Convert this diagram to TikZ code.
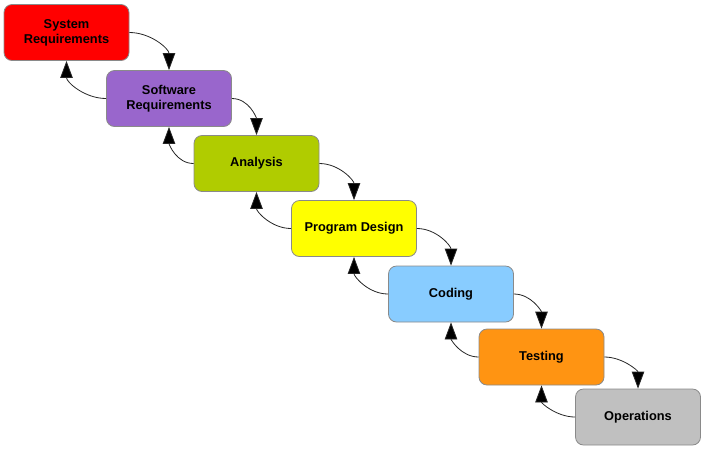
\documentclass[tikz,border=0pt]{standalone}
\usepackage{fontspec}
\setmainfont{Liberation Sans}
\usetikzlibrary{arrows.meta}
\definecolor{sysred}{HTML}{FF0000}
\definecolor{swpurple}{HTML}{9966CC}
\definecolor{anagreen}{HTML}{B0CC00}
\definecolor{pdyellow}{HTML}{FFFF00}
\definecolor{codblue}{HTML}{88CCFF}
\definecolor{tstorange}{HTML}{FF9412}
\definecolor{opgrey}{HTML}{C0C0C0}
\definecolor{edgegrey}{HTML}{8A8A8A}
\begin{document}
\begin{tikzpicture}[x=1pt,y=-1pt,
  phase/.style={draw=edgegrey, line width=0.8pt, rounded corners=8pt,
    minimum width=125pt, minimum height=56pt, inner sep=0pt,
    align=center, font=\bfseries\fontsize{12.8}{15}\selectfont},
  flow/.style={draw=black!85, line width=0.8pt,
    -{Triangle[length=17pt,width=12.5pt,fill=black]}}]
\useasboundingbox (0,0) rectangle (706,451);
\node[phase, fill=sysred]    (sys) at (66.5,32.5)  {System\\Requirements};
\node[phase, fill=swpurple]  (sw)  at (169,98.5)   {Software\\Requirements};
\node[phase, fill=anagreen]  (ana) at (256.5,163.5) {Analysis};
\node[phase, fill=pdyellow]  (pd)  at (354,228.5)  {Program Design};
\node[phase, fill=codblue]   (cod) at (451,294)    {Coding};
\node[phase, fill=tstorange] (tst) at (541.5,357)  {Testing};
\node[phase, fill=opgrey]    (ops) at (638,417)    {Operations};
% forward steps
\foreach \a/\b in {sys/sw, sw/ana, ana/pd, pd/cod, cod/tst, tst/ops}
  \draw[flow] (\a.east) to[out=0,in=90] (\b.north);
% feedback steps
\foreach \a/\b in {sw/sys, ana/sw, pd/ana, cod/pd, tst/cod, ops/tst}
  \draw[flow] (\a.west) to[out=180,in=-90] (\b.south);
\end{tikzpicture}
\end{document}
